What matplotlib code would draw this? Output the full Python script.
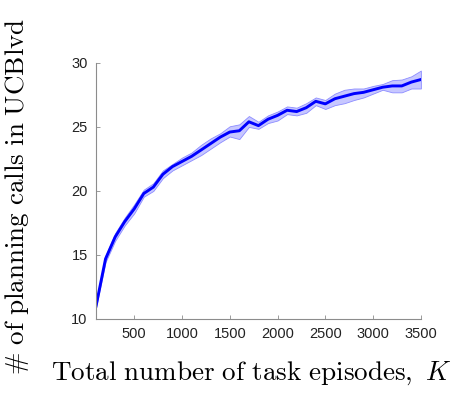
import matplotlib
matplotlib.use('Agg')
import matplotlib.pyplot as plt

# episodes and planning-call counts (mean with upper/lower band)
episodes = [100, 200, 300, 400, 500, 600, 700, 800, 900, 1000,
            1100, 1200, 1300, 1400, 1500, 1600, 1700, 1800, 1900, 2000,
            2100, 2200, 2300, 2400, 2500, 2600, 2700, 2800, 2900, 3000,
            3100, 3200, 3300, 3400, 3500]
calls_mean = [11.0, 14.7, 16.4, 17.6, 18.6, 19.8, 20.3, 21.3, 21.9, 22.3,
              22.7, 23.2, 23.7, 24.2, 24.6, 24.7, 25.4, 25.1, 25.6, 25.9,
              26.3, 26.2, 26.5, 27.0, 26.8, 27.2, 27.4, 27.6, 27.7, 27.9,
              28.1, 28.2, 28.2, 28.5, 28.7]
calls_low = [10.9, 14.45, 16.1, 17.3, 18.25, 19.55, 20.0, 21.0, 21.6, 22.0,
             22.4, 22.8, 23.3, 23.8, 24.25, 24.05, 25.0, 24.85, 25.3, 25.5,
             26.0, 25.9, 26.1, 26.7, 26.4, 26.7, 26.85, 27.1, 27.3, 27.6,
             27.9, 27.7, 27.7, 28.0, 28.0]
calls_high = [11.1, 14.95, 16.7, 17.9, 18.95, 20.1, 20.6, 21.6, 22.1, 22.6,
              23.0, 23.6, 24.1, 24.5, 25.05, 25.2, 25.85, 25.4, 25.9, 26.2,
              26.6, 26.5, 26.85, 27.3, 27.1, 27.6, 27.9, 28.0, 28.0, 28.2,
              28.35, 28.65, 28.7, 28.95, 29.4]

x_ticks = [500, 1000, 1500, 2000, 2500, 3000, 3500]
y_ticks = [10, 15, 20, 25, 30]

plt.rcParams['font.family'] = ['Liberation Sans', 'DejaVu Sans']
plt.rcParams['mathtext.fontset'] = 'cm'

fig = plt.figure(figsize=(4.55, 3.98), dpi=100)
ax = fig.add_axes([0.211, 0.1985, 0.714, 0.6435])

ax.fill_between(episodes, calls_low, calls_high, facecolor=(0.78, 0.78, 1.0),
                edgecolor=(0.55, 0.55, 1.0), linewidth=0.6)
ax.plot(episodes, calls_mean, color=(0, 0, 1), linewidth=2.1)

ax.set_xlim(100, 3500)
ax.set_ylim(10, 30)
ax.set_xticks(x_ticks)
ax.set_yticks(y_ticks)
for side in ['top', 'right']:
    ax.spines[side].set_visible(False)
for side in ['left', 'bottom']:
    ax.spines[side].set_color('#8c8c8c')
    ax.spines[side].set_linewidth(0.8)
ax.tick_params(direction='in', length=3, width=0.6, color='#8c8c8c',
               labelsize=10.5, labelcolor='#222222', pad=6)

ax.set_xlabel(r'$\mathrm{Total\ number\ of\ task\ episodes,}\ K$', fontsize=19.5)
ax.set_ylabel(r'$\#\ \mathrm{of\ planning\ calls\ in\ UCBlvd}$', fontsize=19.5)
ax.xaxis.set_label_coords(0.476, -0.211)
ax.yaxis.set_label_coords(-0.243, 0.48)
ax.xaxis.label.set_va('center')
ax.yaxis.label.set_va('center')

fig.savefig('out.png', dpi=100)
